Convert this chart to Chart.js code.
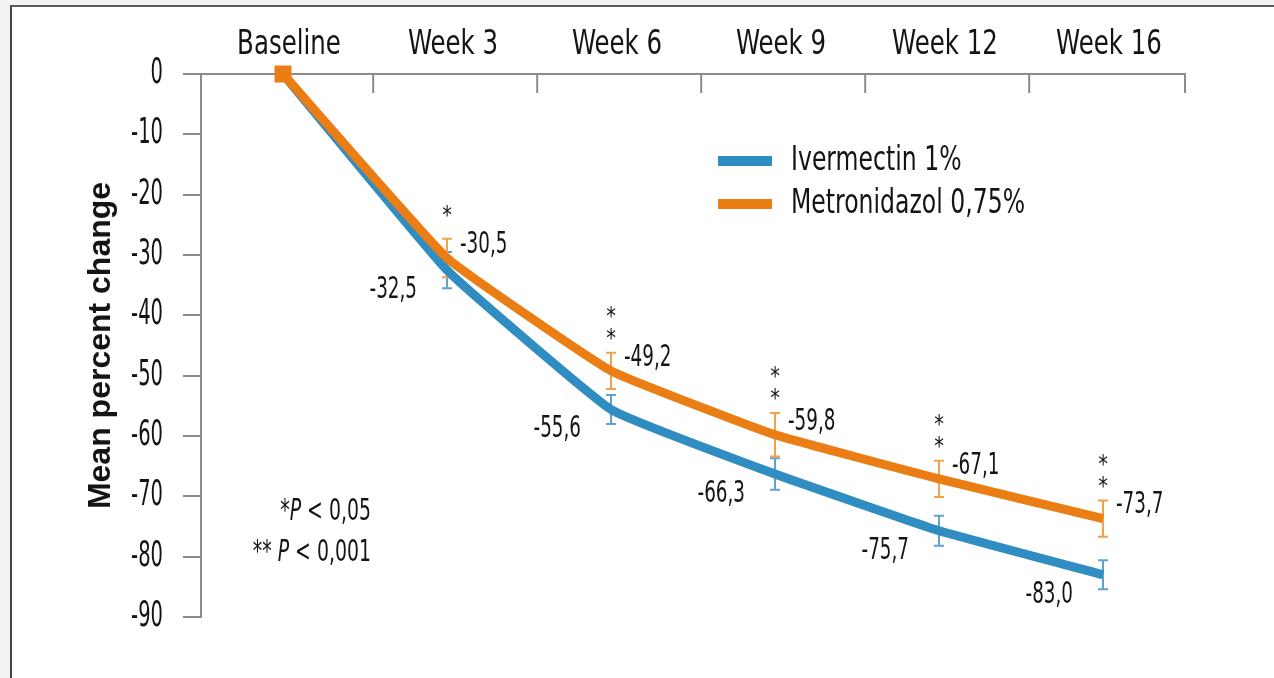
<!DOCTYPE html>
<html>
<head>
<meta charset="utf-8">
<script src="https://cdn.jsdelivr.net/npm/chart.js@4.4.0/dist/chart.umd.min.js"></script>
<style>
  html, body { margin: 0; padding: 0; background: #fff; }
  #wrap { position: relative; width: 1274px; height: 678px; background: #f3f3f3; overflow: hidden; }
  #frame { position: absolute; left: 10px; top: 5px; right: -2px; bottom: -2px; background: #fff;
           border-top: 2px solid #5c5c5c; border-left: 2px solid #444; }
  canvas { position: absolute; left: 0; top: 0; }
</style>
</head>
<body>
<div id="wrap">
  <div id="frame"></div>
  <canvas id="chart" width="1274" height="678"></canvas>
</div>
<script>
const weeks = ["Baseline", "Week 3", "Week 6", "Week 9", "Week 12", "Week 16"];
const ivermectin = [0, -32.5, -55.6, -66.3, -75.7, -83.0];
const metronidazol = [0, -30.5, -49.2, -59.8, -67.1, -73.7];
const ivermectinErr = [0, 3.0, 2.4, 2.6, 2.5, 2.4];
const metronidazolErr = [0, 3.2, 3.0, 3.6, 3.0, 3.0];
const significance = ["", "*", "**", "**", "**", "**"];
const yTicks = [0, -10, -20, -30, -40, -50, -60, -70, -80, -90];

const BLUE = "#2f8dc2";
const ORANGE = "#ea7e14";
const AXIS = "#8c8c8c";
const TEXT = "#141414";
const cond = "'DejaVu Sans Condensed', 'Liberation Sans Narrow', sans-serif";

const fmt = v => v.toFixed(1).replace(".", ",");

// the source uses a tall, very narrow typeface: squeeze text horizontally
function squeezed(ctx, text, x, y, squeeze, align) {
  ctx.save();
  ctx.translate(x, y);
  ctx.scale(squeeze, 1);
  ctx.textAlign = align;
  ctx.fillText(text, 0, 0);
  ctx.restore();
}

function condenseLabels(scale, squeeze, shift) {
  scale.drawLabels = function (area) {
    const ctx = this.ctx;
    this.getLabelItems(area).forEach(item => {
      const o = item.options;
      ctx.save();
      ctx.translate(o.translation[0] + shift, o.translation[1]);
      ctx.scale(squeeze, 1);
      ctx.font = item.font.string;
      ctx.fillStyle = o.color;
      ctx.textAlign = o.textAlign;
      ctx.textBaseline = o.textBaseline;
      ctx.fillText(item.label, 0, item.textOffset);
      ctx.restore();
    });
  };
}

const annotate = {
  id: "annotate",
  afterLayout(chart) {
    condenseLabels(chart.scales.x, 0.8, 6);
    condenseLabels(chart.scales.y, 0.62, 0);
  },
  beforeDatasetsDraw(chart) {
    const ctx = chart.ctx;
    const y = chart.scales.y;
    const sets = [[0, ivermectinErr, "#5ea3cc"], [1, metronidazolErr, "#f0a24e"]];
    sets.forEach(([di, errs, col]) => {
      const meta = chart.getDatasetMeta(di);
      const vals = chart.data.datasets[di].data;
      ctx.save();
      ctx.strokeStyle = col;
      ctx.lineWidth = 2;
      meta.data.forEach((pt, i) => {
        if (!errs[i]) return;
        const top = y.getPixelForValue(vals[i] + errs[i]);
        const bot = y.getPixelForValue(vals[i] - errs[i]);
        ctx.beginPath();
        ctx.moveTo(pt.x, top); ctx.lineTo(pt.x, bot);
        ctx.moveTo(pt.x - 5, top); ctx.lineTo(pt.x + 5, top);
        ctx.moveTo(pt.x - 5, bot); ctx.lineTo(pt.x + 5, bot);
        ctx.stroke();
      });
      ctx.restore();
    });
  },
  afterDatasetsDraw(chart) {
    const ctx = chart.ctx;
    const x = chart.scales.x;
    const y = chart.scales.y;
    const area = chart.chartArea;
    ctx.save();

    // x axis tick marks hang down into the plot
    const step = x.getPixelForValue(1) - x.getPixelForValue(0);
    ctx.strokeStyle = AXIS;
    ctx.lineWidth = 2;
    ctx.beginPath();
    for (let i = 1; i < weeks.length; i++) {
      const px = x.getPixelForValue(i) - step * 0.45;
      ctx.moveTo(px, area.top); ctx.lineTo(px, area.top + 19);
    }
    ctx.moveTo(area.right, area.top); ctx.lineTo(area.right, area.top + 19);
    ctx.stroke();

    // value labels
    ctx.fillStyle = TEXT;
    ctx.font = "30px " + cond;
    ctx.textBaseline = "middle";
    const orangeMeta = chart.getDatasetMeta(1);
    const blueMeta = chart.getDatasetMeta(0);
    for (let i = 1; i < weeks.length; i++) {
      const po = orangeMeta.data[i];
      squeezed(ctx, fmt(metronidazol[i]), po.x + 13, po.y - 13, 0.68, "left");
      const pb = blueMeta.data[i];
      squeezed(ctx, fmt(ivermectin[i]), pb.x - 30, pb.y + 20, 0.68, "right");
    }

    // significance stars above the metronidazol error bars
    ctx.font = "24px " + cond;
    ctx.textBaseline = "alphabetic";
    for (let i = 1; i < weeks.length; i++) {
      const top = y.getPixelForValue(metronidazol[i] + metronidazolErr[i]);
      const px = orangeMeta.data[i].x;
      const n = significance[i].length;
      for (let k = 0; k < n; k++) {
        const cy = top - (n === 1 ? 30 : 21) - k * 22;
        squeezed(ctx, "*", px, cy + 14, 0.9, "center");
      }
    }

    // legend
    const legend = [["Ivermectin 1%", BLUE], ["Metronidazol 0,75%", ORANGE]];
    ctx.font = "34px " + cond;
    ctx.textBaseline = "middle";
    legend.forEach(([label, col], k) => {
      const ly = 161 + k * 43;
      ctx.fillStyle = col;
      ctx.fillRect(718, ly - 5, 54, 10);
      ctx.fillStyle = TEXT;
      squeezed(ctx, label, 791, ly, 0.77, "left");
    });

    // p-value note
    const runs = [
      [["*", false], ["P", true], [" < 0,05", false]],
      [["** ", false], ["P", true], [" < 0,001", false]]
    ];
    const sq = 0.7;
    runs.forEach((parts, k) => {
      const ry = 512 + k * 41;
      let w = 0;
      parts.forEach(([t, it]) => {
        ctx.font = (it ? "italic " : "") + "30px " + cond;
        w += ctx.measureText(t).width * sq;
      });
      let cx = 371 - w;
      parts.forEach(([t, it]) => {
        ctx.font = (it ? "italic " : "") + "30px " + cond;
        squeezed(ctx, t, cx, ry, sq, "left");
        cx += ctx.measureText(t).width * sq;
      });
    });

    ctx.restore();
  }
};

new Chart(document.getElementById("chart"), {
  type: "line",
  data: {
    labels: weeks,
    datasets: [
      {
        label: "Ivermectin 1%",
        data: ivermectin,
        borderColor: BLUE,
        backgroundColor: BLUE,
        borderWidth: 9,
        pointRadius: 0,
        tension: 0.1,
        fill: false,
        order: 2
      },
      {
        label: "Metronidazol 0,75%",
        data: metronidazol,
        borderColor: ORANGE,
        backgroundColor: ORANGE,
        borderWidth: 9,
        pointStyle: "rect",
        pointRadius: [12, 0, 0, 0, 0, 0],
        pointBorderWidth: 0,
        tension: 0.1,
        fill: false,
        clip: false,
        order: 1
      }
    ]
  },
  options: {
    responsive: false,
    animation: false,
    events: [],
    layout: { padding: { left: 82, top: 0, right: 89, bottom: 61 } },
    scales: {
      x: {
        position: "top",
        offset: true,
        grid: { display: false },
        border: { display: true, color: AXIS, width: 2 },
        ticks: { color: TEXT, font: { family: cond, size: 34 }, padding: 0, maxRotation: 0, autoSkip: false },
        afterFit: s => { s.height = 74; }
      },
      y: {
        min: -90,
        max: 0,
        afterBuildTicks: s => { s.ticks = yTicks.map(v => ({ value: v })); },
        grid: { drawOnChartArea: false, tickLength: 18, color: AXIS, lineWidth: 2 },
        border: { display: true, color: AXIS, width: 2 },
        ticks: { color: TEXT, font: { family: cond, size: 35 }, padding: 20 },
        title: {
          display: true,
          text: "Mean percent change",
          color: TEXT,
          font: { family: "'Liberation Sans', Arial, sans-serif", size: 32, weight: "bold" },
          padding: 0
        },
        afterFit: s => { s.width = 119; }
      }
    },
    plugins: {
      legend: { display: false },
      tooltip: { enabled: false }
    }
  },
  plugins: [annotate]
});
</script>
</body>
</html>
